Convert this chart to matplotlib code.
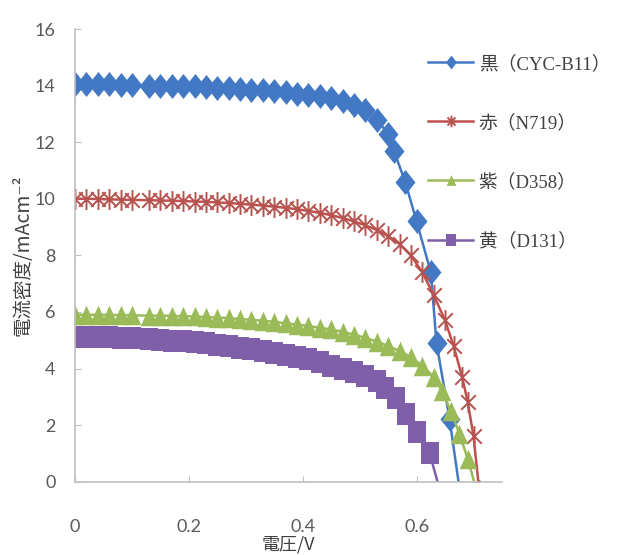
import numpy as np
import matplotlib.pyplot as plt
from matplotlib.path import Path

# J-V curves
x_flat = [0, 0.02, 0.04, 0.06, 0.08, 0.10, 0.13, 0.15, 0.17, 0.19, 0.21, 0.23, 0.25,
          0.27, 0.29, 0.31, 0.33, 0.35, 0.37, 0.39, 0.41, 0.43, 0.45, 0.47, 0.49]

blue_x = x_flat + [0.51, 0.53, 0.55, 0.56, 0.58, 0.60, 0.625, 0.635, 0.658, 0.68]
blue_y = [14.05, 14.05, 14.05, 14.04, 14.03, 14.02, 14.0, 14.0, 13.99, 13.98, 13.97, 13.95, 13.93,
          13.91, 13.89, 13.86, 13.83, 13.8, 13.76, 13.72, 13.68, 13.62, 13.55, 13.45, 13.32,
          13.12, 12.8, 12.3, 11.7, 10.6, 9.2, 7.4, 4.9, 2.2, -0.9]

red_x = x_flat + [0.51, 0.53, 0.55, 0.57, 0.59, 0.61, 0.63, 0.65, 0.665, 0.68, 0.69, 0.70, 0.71]
red_y = [10.0, 10.0, 9.99, 9.98, 9.97, 9.96, 9.95, 9.94, 9.93, 9.92, 9.9, 9.89, 9.87,
         9.85, 9.82, 9.79, 9.76, 9.72, 9.68, 9.63, 9.57, 9.5, 9.42, 9.32, 9.2,
         9.06, 8.9, 8.68, 8.4, 8.0, 7.4, 6.6, 5.7, 4.8, 3.7, 2.8, 1.6, -0.3]

green_x = x_flat + [0.51, 0.53, 0.55, 0.57, 0.59, 0.61, 0.63, 0.645, 0.66, 0.675, 0.69, 0.705]
green_y = [5.9, 5.9, 5.9, 5.89, 5.89, 5.88, 5.87, 5.87, 5.86, 5.85, 5.84, 5.82, 5.8,
           5.78, 5.75, 5.72, 5.69, 5.65, 5.6, 5.55, 5.5, 5.44, 5.38, 5.3, 5.2,
           5.08, 4.95, 4.8, 4.62, 4.4, 4.1, 3.7, 3.2, 2.5, 1.7, 0.8, -0.3]

purple_x = x_flat + [0.51, 0.53, 0.545, 0.564, 0.582, 0.60, 0.623, 0.645]
purple_y = [5.12, 5.12, 5.11, 5.1, 5.09, 5.08, 5.05, 5.02, 4.99, 4.96, 4.93, 4.89, 4.84,
            4.79, 4.74, 4.69, 4.63, 4.56, 4.49, 4.41, 4.32, 4.22, 4.1, 3.98, 3.88,
            3.75, 3.55, 3.3, 2.96, 2.4, 1.76, 1.0, -0.6]

labels = ['黒（CYC-B11）', '赤（N719）', '紫（D358）', '黄（D131）']
colors = ['#4379C4', '#C0504D', '#9BBB59', '#7F5FA8']

# markers (slightly taller than wide, as in the picture)
diamond = [(0, 1), (0.8, 0), (0, -1), (-0.8, 0), (0, 1)]
square = [(-0.8, -1), (0.8, -1), (0.8, 1), (-0.8, 1), (-0.8, -1)]
triangle = [(0, 1), (0.9, -1), (-0.9, -1), (0, 1)]
asterisk = Path([(0, -1), (0, 1), (-0.7, -0.7), (0.7, 0.7), (-0.7, 0.7), (0.7, -0.7)],
                [Path.MOVETO, Path.LINETO, Path.MOVETO, Path.LINETO, Path.MOVETO, Path.LINETO])

fig = plt.figure(figsize=(6.17, 5.55), dpi=100)
ax = fig.add_axes([75 / 617, 1 - 481.7 / 555, 427 / 617, (481.7 - 29) / 555])

ax.plot(blue_x, blue_y, color=colors[0], lw=1.8, marker=diamond, ms=18,
        mew=0, label=labels[0])
ax.plot(red_x, red_y, color=colors[1], lw=1.8, marker=asterisk, ms=15,
        mfc='none', mec='#B5534F', mew=1.4, label=labels[1])
ax.plot(green_x, green_y, color=colors[2], lw=1.8, marker=triangle, ms=14,
        mew=0, label=labels[2])
ax.plot(purple_x, purple_y, color=colors[3], lw=1.8, marker=square, ms=16.5,
        mew=0, label=labels[3])

ax.set_xlim(0, 0.75)
ax.set_ylim(0, 16)
ax.set_xticks([0, 0.2, 0.4, 0.6])
ax.set_xticklabels(['0', '0.2', '0.4', '0.6'])
ax.set_yticks(range(0, 17, 2))

for s in ['top', 'right']:
    ax.spines[s].set_visible(False)
for s in ['left', 'bottom']:
    ax.spines[s].set_color('#BFBFBF')
    ax.spines[s].set_linewidth(1.2)
ax.tick_params(direction='in', length=4, color='#BFBFBF', labelcolor='#595959',
               labelsize=13)
ax.tick_params(axis='x', pad=27)
ax.tick_params(axis='y', pad=14)
for t in ax.get_xticklabels() + ax.get_yticklabels():
    t.set_family('Lato')

cjk = ['Noto Sans CJK JP', 'DejaVu Sans']
ax.set_ylabel('電流密度/mAcm⁻²', family=cjk, fontsize=14, color='#404040', labelpad=1)
ax.set_xlabel('電圧/V', family=cjk, fontsize=13, color='#404040', labelpad=0)

leg = fig.legend(loc='upper left', bbox_to_anchor=(428 / 617, 1 - 55 / 555),
                 frameon=False, handlelength=2.4, handletextpad=0.3,
                 labelspacing=2.2, markerscale=0.55, borderpad=0, borderaxespad=0,
                 prop={'family': ['Liberation Serif', 'Noto Sans CJK JP'], 'size': 13.5})
for t in leg.get_texts():
    t.set_color('#404040')

fig.savefig('out.png', dpi=100)
